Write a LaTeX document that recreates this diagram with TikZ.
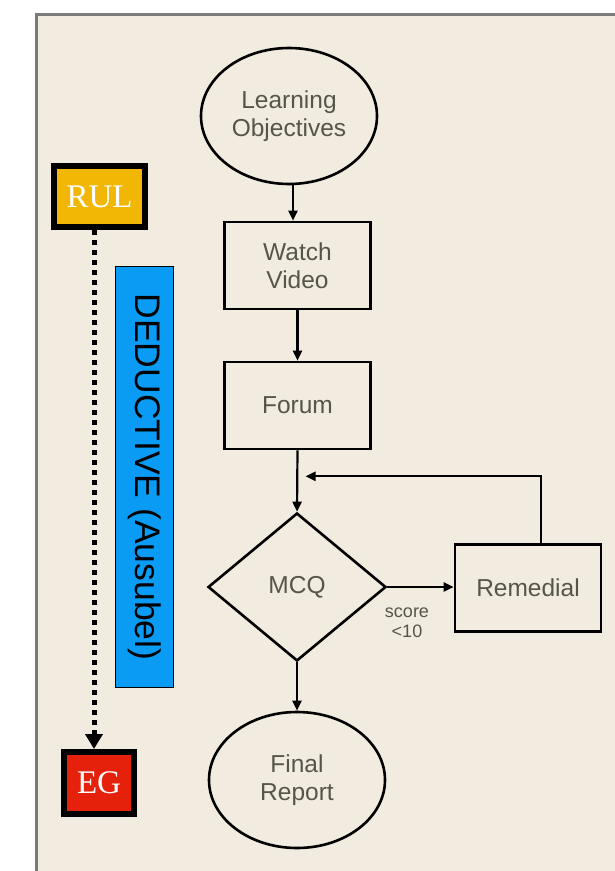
\documentclass[tikz,border=0pt]{standalone}
\usepackage{fontspec}
\setmainfont{Liberation Sans}
\newfontfamily\serifx{Liberation Serif}
\usetikzlibrary{shapes.geometric,arrows.meta,calc}
\definecolor{paper}{HTML}{F2EBDF}
\definecolor{framegray}{HTML}{7A7A78}
\definecolor{txt}{HTML}{55554B}
\definecolor{rulc}{HTML}{F2B705}
\definecolor{egc}{HTML}{E5200B}
\definecolor{barc}{HTML}{0A9CF5}
\begin{document}
\begin{tikzpicture}[x=1pt,y=-1pt,
  flow/.style={draw=black,line width=2.6pt,text=txt,font=\fontsize{24.5}{28}\selectfont,align=center,inner sep=0pt},
  oval/.style={flow,ellipse,minimum width=176pt,minimum height=136pt},
  boxx/.style={flow,rectangle,minimum width=146pt,minimum height=87pt},
  dia/.style={flow,diamond,minimum width=178pt,minimum height=148pt},
  arr/.style={line width=2.2pt,-{Triangle[length=10pt,width=9pt]}},
  tag/.style={draw=black,line width=6pt,text=white,font=\serifx\fontsize{33}{36}\selectfont,inner sep=0pt}
]
\useasboundingbox (0,0) rectangle (615,871);
\fill[white] (0,0) rectangle (615,871);
\draw[fill=paper,draw=framegray,line width=3pt] (36.5,14) rectangle (640,900);

% main flow
\node[oval] (lo) at (289,116) {Learning\\Objectives};
\node[boxx] (wv) at (297.5,265.5) {Watch\\Video};
\node[boxx] (fo) at (297.5,405.5) {Forum};
\node[dia] (mcq) at (297,587) {MCQ};
\node[boxx] (rem) at (528,588) {Remedial};
\node[oval] (fr) at (297,780) {Final\\Report};
\node[text=txt,font=\fontsize{18}{20}\selectfont,align=center,inner sep=0pt] (sc) at (407,623) {score\\<10};

\draw[arr] ([xshift=4pt]lo.south) -- ([xshift=4pt]lo.south |- wv.north);
\draw[arr] (wv.south) -- (fo.north);
\draw[arr] (fo.south) -- (mcq.north);
\draw[arr] (mcq.east) -- (mcq.east -| rem.west);
\draw[arr] (mcq.south) -- (fr.north);
\coordinate (loopend) at ($(fo.south)+(8,26)$);
\draw[arr] ([xshift=13pt]rem.north) |- (loopend);

% left side
\node[tag,fill=rulc,minimum width=91pt,minimum height=61pt] (rul) at (99.5,196.5) {RUL};
\node[tag,fill=egc,minimum width=70pt,minimum height=62pt] (eg) at (99,783) {EG};
\draw[line width=5pt,dash pattern=on 5pt off 5pt,-{Triangle[length=15pt,width=17pt]}]
  ([xshift=-5.5pt]rul.south) -- ([xshift=-5pt]eg.north);
\node[draw=black,line width=1.6pt,fill=barc,minimum width=58pt,minimum height=421pt,inner sep=0pt] (bar) at (144.5,477) {};
\node[rotate=-90,font=\fontsize{35.5}{38}\selectfont,text=black,inner sep=0pt] (bartext) at (bar.center) {DEDUCTIVE (Ausubel)};
\end{tikzpicture}
\end{document}
